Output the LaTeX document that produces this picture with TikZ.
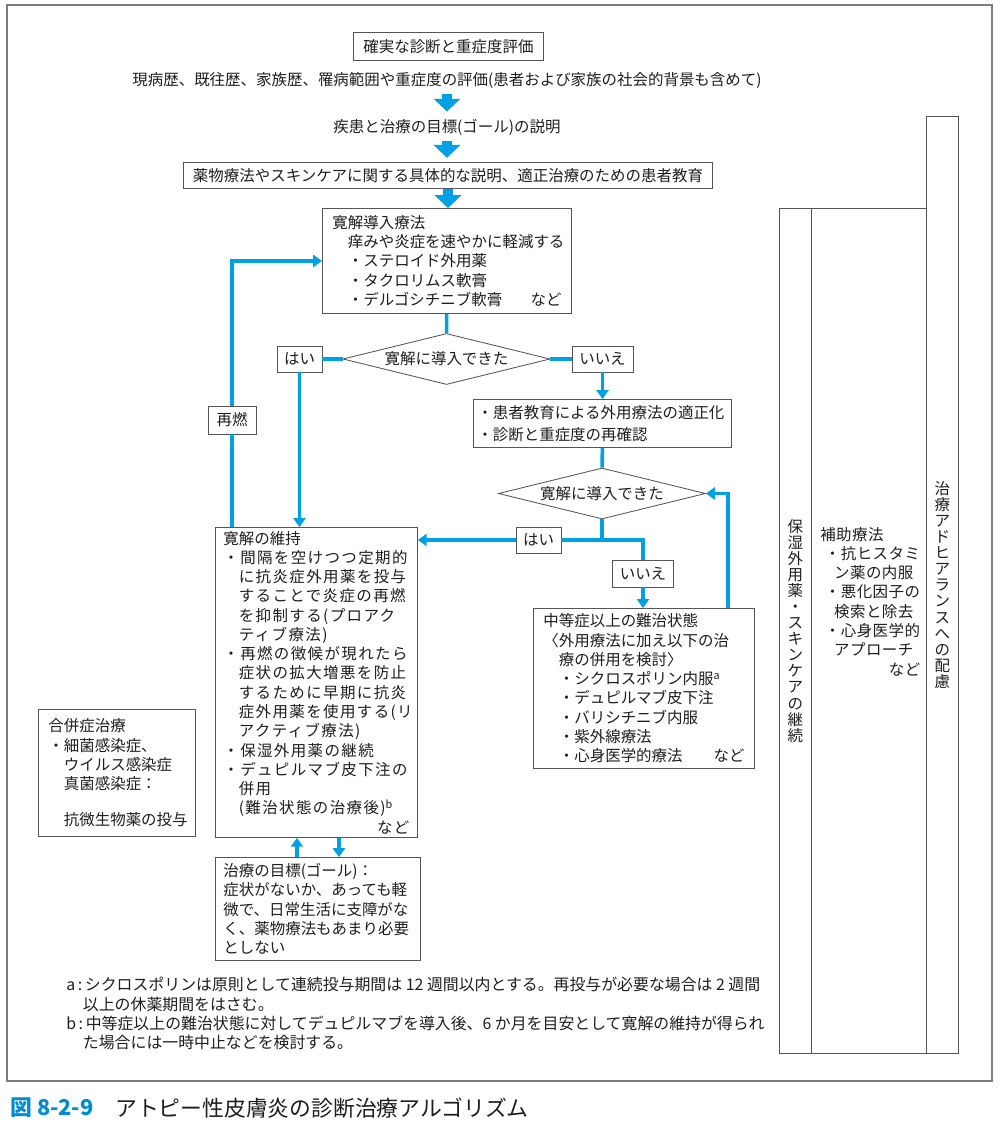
\documentclass[tikz,border=0pt]{standalone}
\usepackage{fontspec}
\setmainfont{Noto Sans CJK JP}
\usepackage{tikz}
\usetikzlibrary{arrows.meta,positioning,shapes.geometric,calc}
\usepackage{xcolor}
\definecolor{flowblue}{RGB}{0,160,228}
\definecolor{capblue}{RGB}{0,140,210}
\definecolor{boxgray}{RGB}{85,85,85}
\definecolor{textdark}{RGB}{30,30,30}
\definecolor{framegray}{RGB}{125,125,125}
\newcommand{\jpbody}{\fontsize{11}{13.7}\selectfont}
\newcommand{\jpspread}{\addfontfeatures{LetterSpace=9}}
\newcommand{\jpind}{\hspace*{1em}}

\begin{document}
\begin{tikzpicture}[x=0.025cm,y=-0.025cm,
    box/.style={draw=boxgray,line width=0.6pt,fill=white,anchor=north west,align=left,inner ysep=0pt,font=\jpbody,text=textdark},
    tag/.style={draw=boxgray,line width=0.6pt,fill=white,inner sep=0pt,minimum height=0.65cm,font=\jpbody,text=textdark},
    choice/.style={draw=boxgray,line width=0.6pt,fill=white,diamond,aspect=4,inner sep=0pt,minimum width=5.175cm,minimum height=1.275cm,font=\jpbody,text=textdark},
    column/.style={draw=boxgray,line width=0.6pt,anchor=north west,inner sep=0pt,align=center,font=\fontsize{11}{11.4}\selectfont,text=textdark},
    plain/.style={font=\jpbody,text=textdark,inner sep=2pt},
    note/.style={anchor=west,align=left,inner sep=0pt,font=\fontsize{11.3}{13.7}\selectfont,text=textdark},
    flow/.style={draw=flowblue,line width=2.5pt},
    flowto/.style={flow,-{Triangle[width=0.3cm,length=0.22cm]}},
    bigarrow/.style={draw=flowblue,line width=0.25cm,-{Triangle[width=0.65cm,length=0.32cm]}}
  ]
    \useasboundingbox (0,0) rectangle (1000,1132);
    \draw[framegray,line width=1.1pt] (7,5) rectangle (992,1081);

    % Diagnosis and explanation
    \node[box,align=center,minimum width=4.75cm,minimum height=0.7cm] (eval) at (353,32) {確実な診断と重症度評価};
    \node[plain] (hist) at (447,80) {現病歴、既往歴、家族歴、罹病範囲や重症度の評価(患者および家族の社会的背景も含めて)};
    \node[plain] (expl) at (447,127) {疾患と治療の目標(ゴール)の説明};
    \node[box,align=center,minimum width=13.225cm,minimum height=0.65cm] (educ) at (183,162) {薬物療法やスキンケアに関する具体的な説明、適正治療のための患者教育};

    % Induction therapy
    \node[box,minimum width=6.225cm,minimum height=2.625cm,inner xsep=0.25cm,text width=5.725cm] (induct) at (322,208)
      {寛解導入療法\\
       \jpind 痒みや炎症を速やかに軽減する\\
       \jpind ・ステロイド外用薬\\
       \jpind ・タクロリムス軟膏\\
       \jpind ・デルゴシチニブ軟膏\hfill など};

    % First decision
    \node[choice] (d1) at (446.5,359) {寛解に導入できた};
    \node[tag,minimum width=1.125cm] (yes1) at (299.5,359) {はい};
    \node[tag,minimum width=1.525cm] (no1) at (602.5,359) {いいえ};

    % Recheck
    \node[box,minimum width=6.45cm,minimum height=1.2cm,inner xsep=0.1cm,text width=6.25cm,font=\fontsize{11}{15.5}\selectfont] (recheck) at (473,399)
      {・患者教育による外用療法の適正化\\
       ・診断と重症度の再確認};

    % Second decision
    \node[choice] (d2) at (602,493.5) {寛解に導入できた};
    \node[tag,minimum width=1.125cm] (yes2) at (538.5,540) {はい};
    \node[tag,minimum width=1.525cm,minimum height=0.675cm] (no2) at (643,573.5) {いいえ};

    % Relapse
    \node[tag,minimum width=1.2cm,minimum height=0.7cm] (relapse) at (232,420) {再燃};

    % Maintenance
    \node[box,minimum width=5.05cm,minimum height=7.75cm,inner xsep=0.2cm,text width=4.65cm] (maint) at (215,527)
      {寛解の維持\\ \jpspread
       ・間隔を空けつつ定期的\\
       \jpind に抗炎症外用薬を投与\\
       \jpind することで炎症の再燃\\
       \jpind を抑制する(プロアク\\
       \jpind ティブ療法)\\
       ・再燃の徴候が現れたら\\
       \jpind 症状の拡大増悪を防止\\
       \jpind するために早期に抗炎\\
       \jpind 症外用薬を使用する(リ\\
       \jpind アクティブ療法)\\
       ・保湿外用薬の継続\\
       ・デュピルマブ皮下注の\\
       \jpind 併用\\
       \jpind (難治状態の治療後)\textsuperscript{b}\\
       \hfill など};

    % Moderate to severe
    \node[box,minimum width=5.525cm,minimum height=4cm,inner xsep=0.25cm,text width=5.025cm] (severe) at (533,608)
      {中等症以上の難治状態\\
       〈外用療法に加え以下の治\\
       \jpind 療の併用を検討〉\\
       \jpind ・シクロスポリン内服\textsuperscript{a}\\
       \jpind ・デュピルマブ皮下注\\
       \jpind ・バリシチニブ内服\\
       \jpind ・紫外線療法\\
       \jpind ・心身医学的療法\hfill など};

    % Goal
    \node[box,minimum width=5.125cm,minimum height=2.575cm,inner xsep=0.2cm,text width=4.725cm] (goal) at (215,857)
      {治療の目標(ゴール)：\\
       症状がないか、あっても軽\\
       微で、日常生活に支障がな\\
       く、薬物療法もあまり必要\\
       としない};

    % Comorbidity
    \node[box,minimum width=3.925cm,minimum height=3.175cm,inner xsep=0.25cm,text width=3.425cm] (comorb) at (38,709)
      {合併症治療\\
       ・細菌感染症、\\
       \jpind ウイルス感染症\\
       \jpind 真菌感染症：\\[12pt]
       \jpind 抗微生物薬の投与};

    % Right columns
    \node[column,minimum width=0.8cm,minimum height=21.125cm] (moist) at (779,208)
      {保\\湿\\外\\用\\薬\\・\\ス\\キ\\ン\\ケ\\ア\\の\\継\\続};
    \node[column,minimum width=2.875cm,minimum height=21.125cm] (aux) at (811,208) {};
    \node[column,minimum width=0.8cm,minimum height=23.425cm] (adher) at (926,116)
      {治\\療\\ア\\ド\\ヒ\\ア\\ラ\\ン\\ス\\へ\\の\\配\\慮};
    \node[note,font=\jpbody\addfontfeatures{LetterSpace=3},text width=2.5cm] (auxtxt) at (820,601.5)
      {補助療法\\
       \hspace*{0.3em}・抗ヒスタミ\\
       \hspace*{0.9em}ン薬の内服\\
       \hspace*{0.3em}・悪化因子の\\
       \hspace*{0.9em}検索と除去\\
       \hspace*{0.3em}・心身医学的\\
       \hspace*{0.9em}アプローチ\\
       \hfill など};

    % Footnotes
    \node[note] (notea) at (66,994.5)
      {a\,:\,シクロスポリンは原則として連続投与期間は 12 週間以内とする。再投与が必要な場合は 2 週間\\
       \hspace*{1.05em}以上の休薬期間をはさむ。};
    \node[note] (noteb) at (66,1032.5)
      {b\,:\,中等症以上の難治状態に対してデュピルマブを導入後、6 か月を目安として寛解の維持が得られ\\
       \hspace*{1.05em}た場合には一時中止などを検討する。};

    % Caption
    \node[anchor=west,inner sep=0pt,font=\fontsize{15.5}{18}\selectfont\bfseries,text=capblue] (capnum) at (10,1108) {図 8-2-9};
    \node[anchor=west,inner sep=0pt,font=\fontsize{15.5}{18}\selectfont,text=textdark] (captxt) at (115,1108) {アトピー性皮膚炎の診断治療アルゴリズム};

    % Flow connectors
    \draw[bigarrow,shorten <=2pt,shorten >=3pt] (hist) -- (expl);
    \draw[bigarrow,shorten <=2pt,shorten >=3pt] (expl) -- (expl |- educ.north);
    \draw[bigarrow] (educ.south) -- (educ.south |- induct.north);
    \draw[flow] (induct) -- (d1);
    \draw[flow] (d1) -- (yes1);
    \draw[flow] (d1) -- (no1);
    \draw[flowto] (yes1) -- (yes1 |- maint.north);
    \draw[flowto] (no1) -- (no1 |- recheck.north);
    \draw[flow] (recheck) -- (d2);
    \coordinate (split) at (602,540);
    \draw[flow] (d2) -- (split);
    \draw[flow] (split) -- (yes2);
    \draw[flowto] (yes2) -- (yes2 -| maint.east);
    \draw[flow] (split) -| (no2);
    \draw[flowto] (no2) -- (no2 |- severe.north);
    \draw[flowto] ([xshift=-0.675cm]severe.north east) |- (d2);
    % relapse loop
    \draw[flow] (relapse) -- (relapse |- maint.north);
    \draw[flowto] (relapse) |- (induct);
    % maintenance and goal
    \draw[flowto] ([xshift=-0.525cm]goal.north) -- ([xshift=-0.525cm]goal.north |- maint.south);
    \draw[flowto] ([xshift=0.525cm]goal.north |- maint.south) -- ([xshift=0.525cm]goal.north);
  \end{tikzpicture}
\end{document}
